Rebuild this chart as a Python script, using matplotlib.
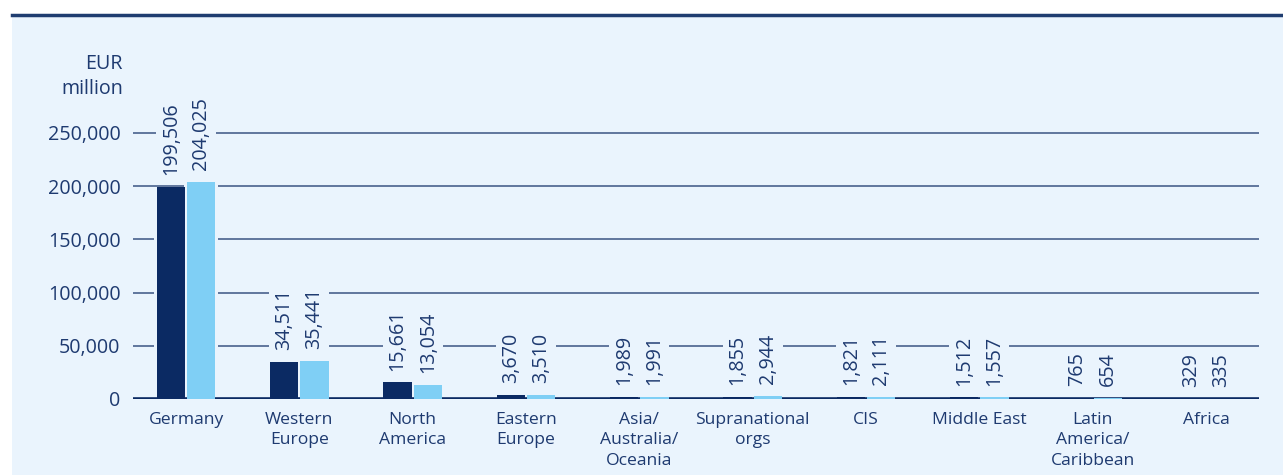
import numpy as np
import matplotlib.pyplot as plt
from matplotlib.transforms import Bbox

# Regional breakdown, two reporting dates (EUR million)
regions = ["Germany", "Western\nEurope", "North\nAmerica", "Eastern\nEurope",
           "Asia/\nAustralia/\nOceania", "Supranational\norgs", "CIS",
           "Middle East", "Latin\nAmerica/\nCaribbean", "Africa"]
prev_year = [199506, 34511, 15661, 3670, 1989, 1855, 1821, 1512, 765, 329]
curr_year = [204025, 35441, 13054, 3510, 1991, 2944, 2111, 1557, 654, 335]
y_ticks = [0, 50000, 100000, 150000, 200000, 250000]

BG = "#EAF4FD"
NAVY = "#0B2A63"
LIGHT = "#7FCFF5"
TEXT = "#1E3A70"
GRID = "#556C95"

plt.rcParams["font.family"] = ["Open Sans", "DejaVu Sans"]

fig = plt.figure(figsize=(12.83, 4.75), dpi=100)
fig.patch.set_facecolor("white")

# light panel with a dark rule on top
fig.patches.append(plt.Rectangle((12 / 1283, 0), 1, 1 - 16 / 475,
                                 transform=fig.transFigure, facecolor=BG,
                                 edgecolor="none", zorder=-5))
fig.add_artist(plt.Line2D([12 / 1283, 1], [1 - 15 / 475] * 2,
                          transform=fig.transFigure, color="#1F3D70", lw=2.5))

ax = fig.add_axes([133 / 1283, 1 - 399 / 475, (1259 - 133) / 1283, 298 / 475])
ax.set_facecolor("none")
ax.set_xlim(-0.468, len(regions) - 1 + 0.468)
ax.set_ylim(0, 280000)

for s in ax.spines.values():
    s.set_visible(False)

for t in y_ticks[1:]:
    ax.axhline(t, color=GRID, lw=1.3, zorder=1)
ax.axhline(0, color=NAVY, lw=2.6, zorder=2.5)

x = np.arange(len(regions))
w = 0.25
off = 0.134
gap = 0.05

# background halo so the grid stops short of the bars
ax.bar(x - off, prev_year, w + gap, color=BG, zorder=2)
ax.bar(x + off, curr_year, w + gap, color=BG, zorder=2)
ax.bar(x - off, prev_year, w, color=NAVY, zorder=3)
ax.bar(x + off, curr_year, w, color=LIGHT, zorder=3)

lbl_box = dict(facecolor=BG, edgecolor="none", pad=3.6)
pairs = []
for xi, a, b in zip(x, prev_year, curr_year):
    pair = []
    for xx, v in ((xi - off, a), (xi + off, b)):
        pair.append(ax.annotate(f"{v:,}", (xx, v), xytext=(0, 8.5),
                                textcoords="offset points", rotation=90,
                                ha="center", va="bottom", fontsize=14.2,
                                color=TEXT, bbox=lbl_box, zorder=2))
    pairs.append(pair)

ax.set_yticks(y_ticks)
ax.set_yticklabels([f"{t:,}" for t in y_ticks], fontsize=14.2, color=TEXT)
ax.tick_params(axis="y", length=0, pad=9)
ax.set_xticks(x)
ax.set_xticklabels(regions, fontsize=12.6, color=TEXT, linespacing=1.38)
ax.tick_params(axis="x", length=0, pad=9)

fig.text(123 / 1283, 1 - 54 / 475, "EUR\nmillion", ha="right", va="top",
         fontsize=14.2, color=TEXT, linespacing=1.3)

# fill the sliver between paired labels so no grid shows through
fig.canvas.draw()
r = fig.canvas.get_renderer()
inv = ax.transData.inverted()
for t1, t2 in pairs:
    e1, e2 = t1.get_window_extent(r), t2.get_window_extent(r)
    y0, y1 = max(e1.y0, e2.y0), min(e1.y1, e2.y1)
    if y1 <= y0:
        continue
    box = Bbox([[e1.x1 - 2, y0], [e2.x0 + 2, y1]]).transformed(inv)
    ax.add_patch(plt.Rectangle((box.x0, box.y0), box.width, box.height,
                               facecolor=BG, edgecolor="none", zorder=1.9))

fig.savefig("out.png", dpi=100, facecolor=fig.get_facecolor())
